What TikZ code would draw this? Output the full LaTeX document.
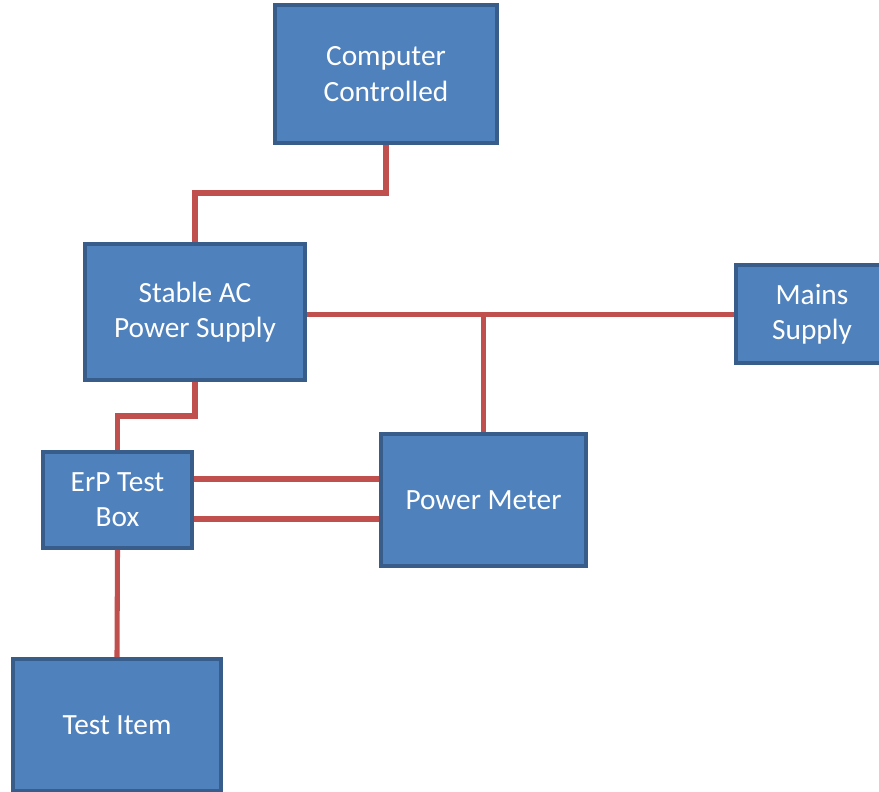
\documentclass[tikz,border=0pt]{standalone}
\usepackage{fontspec}
\setmainfont{Carlito}
\usepackage{xcolor}
\usetikzlibrary{positioning}
\definecolor{boxfill}{HTML}{4F81BD}
\definecolor{boxline}{HTML}{385D8A}
\definecolor{wirered}{HTML}{C0504D}

\begin{document}
\begin{tikzpicture}[x=0.75pt,y=-0.75pt,
	unit/.style={rectangle,draw=boxline,fill=boxfill,line width=3pt,text=white,align=center,
		font=\fontsize{22}{26.5}\selectfont,inner sep=0pt},
	wire/.style={draw=wirered,line width=3.8pt}]
	\useasboundingbox (0,0) rectangle (879,792);
	\node (comp) at (386,74) [unit,minimum width=166.5pt,minimum height=103.5pt] {Computer\\Controlled};
	\node (stable) at (195,312) [unit,minimum width=165pt,minimum height=102pt] {Stable AC\\Power Supply};
	\node (mains) at (812,314) [unit,minimum width=114pt,minimum height=73.5pt] {Mains\\Supply};
	\node (erp) at (117.5,500) [unit,minimum width=111.75pt,minimum height=72pt] {ErP Test\\Box};
	\node (meter) at (483.5,500) [unit,minimum width=153.75pt,minimum height=99pt] {Power Meter};
	\node (item) at (117,725) [unit,minimum width=156pt,minimum height=99pt] {Test Item};
	\draw [wire] (comp.south) -- ++(0,48) -| (stable.north);
	\draw [wire] ([yshift=-2pt]stable.east) -- ([yshift=-2pt]stable.east -| mains.west);
	\coordinate (tap) at ([yshift=-2pt]meter.north |- stable.east);
	\draw [wire] (tap) -- (meter.north);
	\draw [wire] (stable.south) -- ++(0,34) -| (erp.north);
	\draw [wire] ([yshift=15.75pt]erp.east) -- ([yshift=15.75pt]erp.east -| meter.west);
	\draw [wire] ([yshift=-14.25pt]erp.east) -- ([yshift=-14.25pt]erp.east -| meter.west);
	\draw [wire] (erp.south) -- (item.north);
\end{tikzpicture}
\end{document}
